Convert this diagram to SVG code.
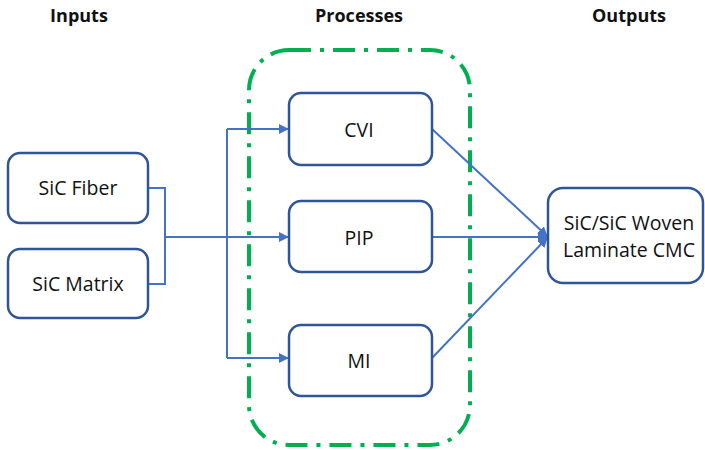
<svg xmlns="http://www.w3.org/2000/svg" width="705" height="450" viewBox="0 0 705 450">
<style>
.box{fill:#fff;stroke:#2F5597;stroke-width:2.5}
.lbl{font-family:"Open Sans","Liberation Sans",sans-serif;font-size:19.5px;fill:#111;text-anchor:middle}
.hdr{font-family:"Open Sans","Liberation Sans",sans-serif;font-size:18px;font-weight:bold;fill:#111;text-anchor:middle}
.ln{fill:none;stroke:#4472C4;stroke-width:2}
</style>
<defs>
<marker id="ah" viewBox="0 0 10 10" refX="9" refY="5" markerWidth="5" markerHeight="5" orient="auto" markerUnits="strokeWidth">
<path d="M0,0 L10,5 L0,10 z" fill="#4472C4"/>
</marker>
</defs>
<rect width="705" height="450" fill="#fff"/>
<text class="hdr" x="79" y="22">Inputs</text>
<text class="hdr" x="359" y="22">Processes</text>
<text class="hdr" x="629" y="22">Outputs</text>
<rect id="group" x="249" y="50" width="221" height="395" rx="40" fill="none" stroke="#00B050" stroke-width="4" stroke-dasharray="22,9,4,9"/>
<g id="connectors">
<path class="ln" d="M148,188 H165 V284 H148"/>
<path class="ln" d="M165,237 H288" marker-end="url(#ah)"/>
<path class="ln" d="M227,129 V358"/>
<path class="ln" d="M227,129 H288" marker-end="url(#ah)"/>
<path class="ln" d="M227,358 H288" marker-end="url(#ah)"/>
<path class="ln" d="M432,129 L547,236" marker-end="url(#ah)"/>
<path class="ln" d="M432,237 H547" marker-end="url(#ah)"/>
<path class="ln" d="M432,358 L547,238" marker-end="url(#ah)"/>
</g>
<g id="fiber"><rect class="box" x="8" y="153" width="140" height="70" rx="12"/><text class="lbl" x="78" y="195">SiC Fiber</text></g>
<g id="matrix"><rect class="box" x="8" y="249" width="140" height="69" rx="12"/><text class="lbl" x="78" y="291">SiC Matrix</text></g>
<g id="cvi"><rect class="box" x="289" y="93" width="143" height="72" rx="12"/><text class="lbl" x="359" y="137">CVI</text></g>
<g id="pip"><rect class="box" x="289" y="201" width="143" height="71" rx="12"/><text class="lbl" x="359" y="245">PIP</text></g>
<g id="mi"><rect class="box" x="289" y="325" width="143" height="71" rx="12"/><text class="lbl" x="359" y="368">MI</text></g>
<g id="output"><rect class="box" x="548" y="188" width="155" height="95" rx="15"/><text class="lbl" x="629" y="230">SiC/SiC Woven</text><text class="lbl" x="629" y="257">Laminate CMC</text></g>
</svg>
